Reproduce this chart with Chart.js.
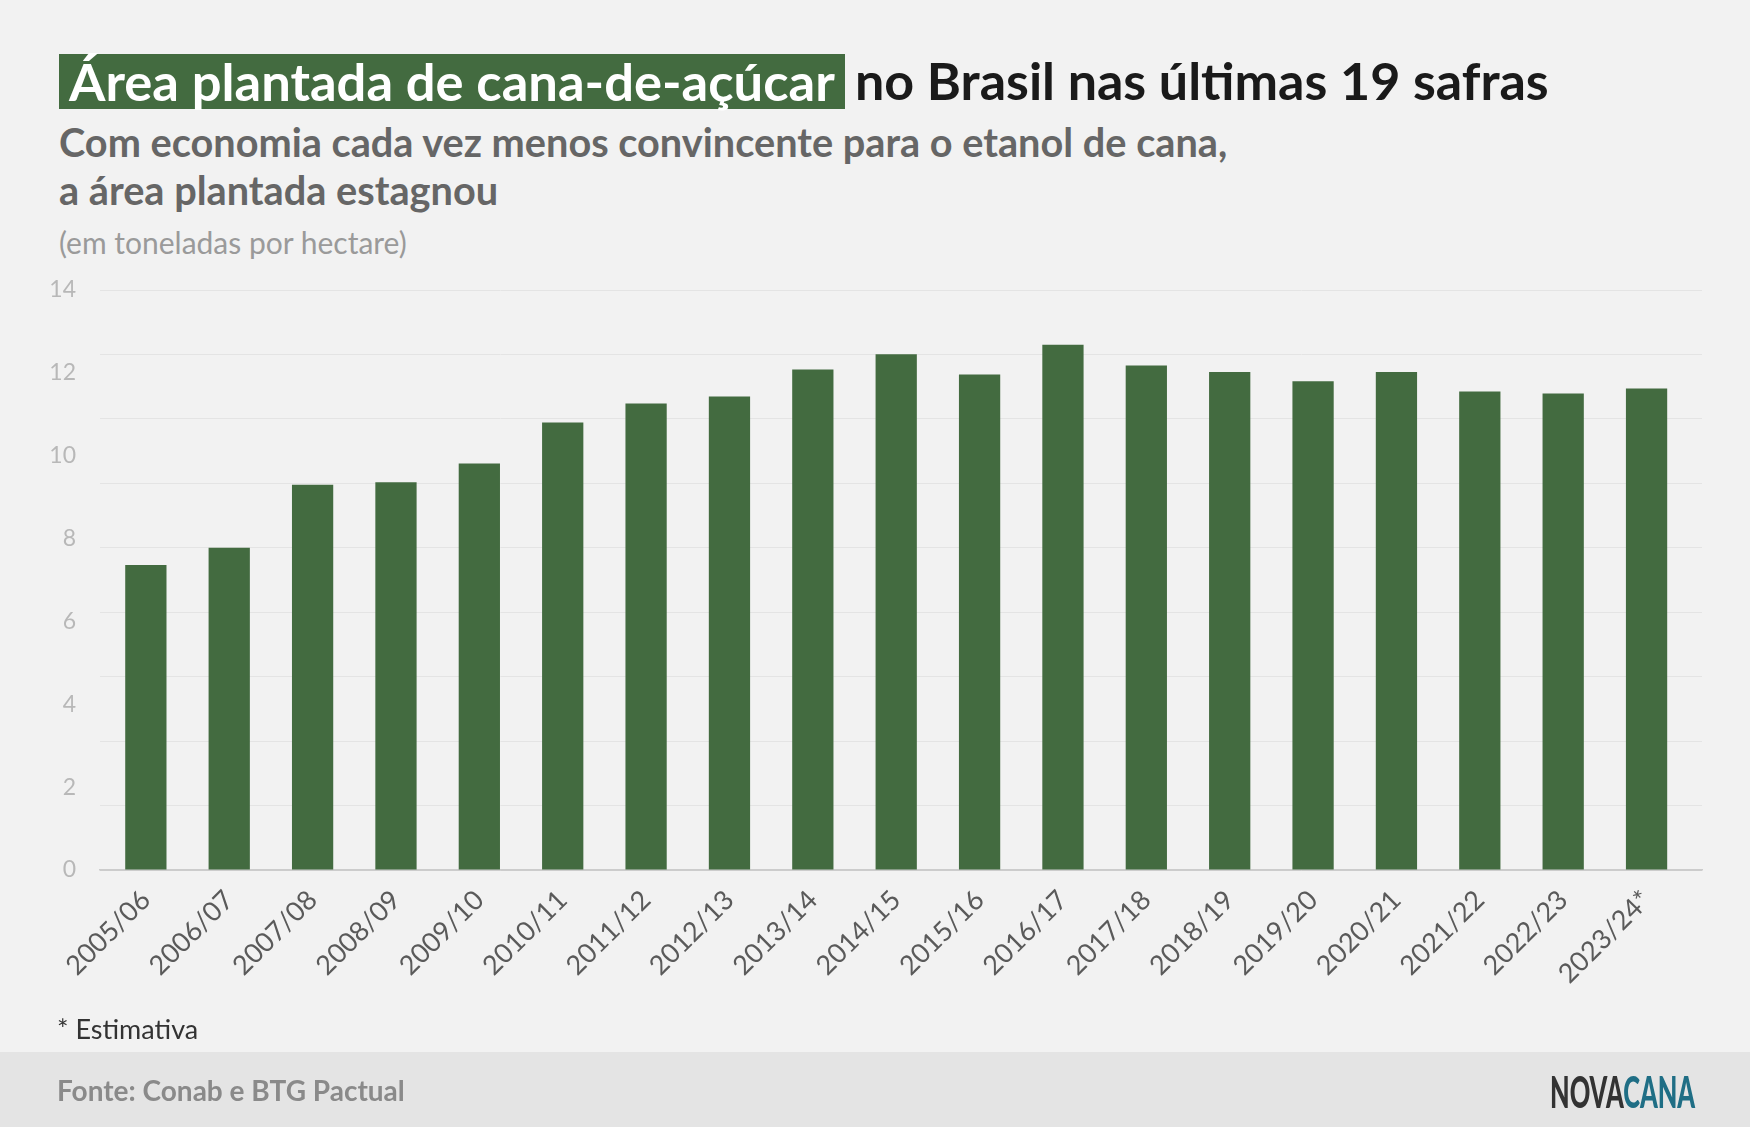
<!DOCTYPE html>
<html>
<head>
<meta charset="utf-8">
<script src="https://cdn.jsdelivr.net/npm/chart.js@4"></script>
<style>
  html, body { margin:0; padding:0; }
  body { width:1750px; height:1127px; background:#f2f2f2; position:relative; overflow:hidden; font-family: Lato, "Open Sans", sans-serif; }
  .abs { position:absolute; white-space:nowrap; }
  #titleBox { left:59px; top:54px; height:55px; width:786px; background:#436b40; }
  #t1 { left:69px; top:49px; font-size:52.5px; font-weight:700; color:#ffffff; }
  #t2 { left:855px; top:49px; font-size:52px; font-weight:700; color:#1a1a1a; }
  #sub1 { left:59px; top:118px; font-size:39.7px; font-weight:700; color:#666666; }
  #sub2 { left:59px; top:166px; font-size:39.7px; font-weight:700; color:#666666; }
  #unit { left:59px; top:224px; font-size:30px; color:#9a9a9a; }
  #note { left:57px; top:1012px; font-size:27px; color:#333333; }
  #footer { left:0; top:1052px; width:1750px; height:75px; background:#e4e4e4; }
  #fonte { left:57px; top:1073px; font-size:28px; font-weight:700; color:#8a8a8a; }
  #logo { left:1550px; top:1065px; font-size:44px; font-weight:900; transform:scaleX(0.577); transform-origin:left top; }
  #logo .a { color:#333333; } #logo .b { color:#1f6e85; }
  #c { position:absolute; left:0; top:0; }
</style>
</head>
<body>
<div id="titleBox" class="abs"></div>
<div id="t1" class="abs">Área plantada de cana-de-açúcar</div>
<div id="t2" class="abs">no Brasil nas últimas 19 safras</div>
<div id="sub1" class="abs">Com economia cada vez menos convincente para o etanol de cana,</div>
<div id="sub2" class="abs">a área plantada estagnou</div>
<div id="unit" class="abs">(em toneladas por hectare)</div>
<div id="footer" class="abs"></div>
<canvas id="c" width="1750" height="1127"></canvas>
<div id="note" class="abs">* Estimativa</div>
<div id="fonte" class="abs">Fonte: Conab e BTG Pactual</div>
<div id="logo" class="abs"><span class="a">NOVA</span><span class="b">CANA</span></div>
<script>
const categories = ["2005/06","2006/07","2007/08","2008/09","2009/10","2010/11","2011/12","2012/13","2013/14","2014/15","2015/16","2016/17","2017/18","2018/19","2019/20","2020/21","2021/22","2022/23","2023/24*"];
const values = [7.36, 7.78, 9.3, 9.36, 9.81, 10.8, 11.26, 11.43, 12.08, 12.45, 11.96, 12.68, 12.18, 12.02, 11.8, 12.02, 11.55, 11.5, 11.62];
const yMin = 0, yMax = 14;
const yLabelStep = 2;
const gridDivisions = 9;
const xMin = -0.55, xMax = 18.665;

const lato = "Lato, 'Open Sans', sans-serif";

new Chart(document.getElementById('c'), {
  type: 'bar',
  data: {
    datasets: [{
      data: values.map((v, i) => ({ x: i, y: v })),
      backgroundColor: '#436b40',
      borderWidth: 0,
      barPercentage: 0.495,
      categoryPercentage: 1.0
    }]
  },
  options: {
    responsive: false,
    animation: false,
    events: [],
    layout: { padding: { top: 290, right: 48, bottom: 137, left: 0 } },
    plugins: { legend: { display: false }, tooltip: { enabled: false } },
    scales: {
      x: {
        type: 'linear',
        min: xMin, max: xMax,
        offset: false,
        grid: { display: false, drawTicks: false },
        border: { display: true, color: '#cccccc', width: 1.5 },
        afterBuildTicks: (s) => { s.ticks = categories.map((_, i) => ({ value: i })); },
        ticks: {
          color: '#5a5a5a',
          font: { family: lato, size: 27 },
          minRotation: 45, maxRotation: 45,
          padding: 14,
          autoSkip: false,
          callback: (v) => categories[v]
        },
        afterFit: (s) => { s.height = 120; }
      },
      y: {
        min: yMin, max: yMax,
        position: 'left',
        grid: {
          color: (ctx) => ctx.tick && ctx.tick.value === 0 ? '#cccccc' : '#e4e4e4',
          lineWidth: 1,
          drawTicks: false
        },
        border: { display: false },
        ticks: { display: false },
        afterBuildTicks: (s) => {
          const t = [];
          for (let i = 0; i <= gridDivisions; i++) t.push({ value: yMin + (yMax - yMin) * i / gridDivisions });
          s.ticks = t;
        },
        afterFit: (s) => { s.width = 0; }
      },
      yl: {
        min: yMin, max: yMax,
        position: 'left',
        grid: { display: false, drawTicks: false },
        border: { display: false },
        ticks: {
          stepSize: yLabelStep,
          color: '#b8b8b8',
          font: { family: lato, size: 23 },
          padding: 24
        },
        afterFit: (s) => { s.width = 100; }
      }
    }
  }
});
</script>
</body>
</html>
